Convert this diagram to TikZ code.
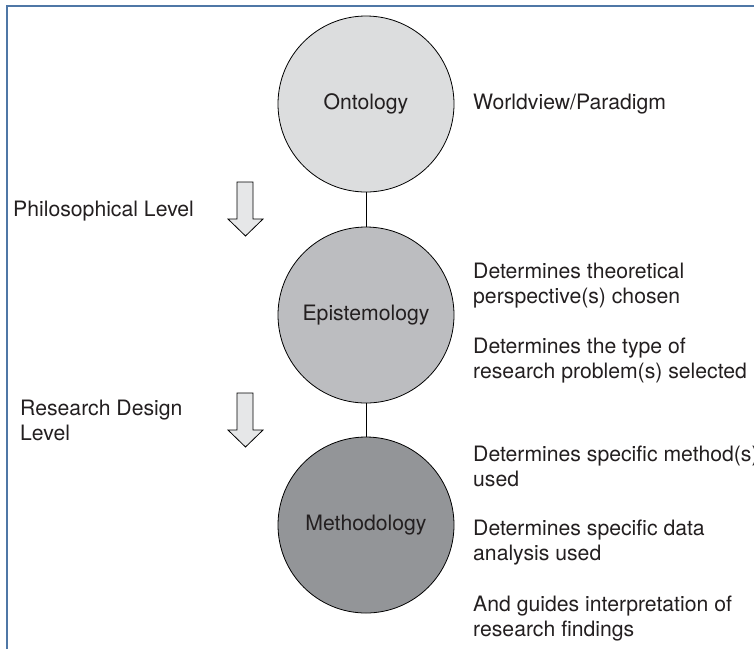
\documentclass[tikz,border=0pt]{standalone}
\usepackage{fontspec}
\setmainfont{TeX Gyre Heros}
\usepackage{tikz}
\definecolor{cadrebleu}{HTML}{4F77A6}
\definecolor{onto}{HTML}{DCDDDE}
\definecolor{episte}{HTML}{BCBDC0}
\definecolor{metho}{HTML}{939598}
\definecolor{fleche}{HTML}{E6E7E8}
\definecolor{encre}{HTML}{231F20}

\begin{document}
\begin{tikzpicture}[x=1pt, y=-1pt, color=encre, node font=\fontsize{21.2}{25}\selectfont,
	niveau/.style={circle, draw=black, line width=0.8pt, minimum size=176pt, inner sep=0pt},
	remarque/.style={anchor=west, align=left, inner sep=0pt},
	bloc/.style={draw=black, line width=0.8pt, fill=fleche}]
			\useasboundingbox (0,0) rectangle (754,649);
			\draw [cadrebleu, line width=2pt] (7,649) -- (7,5.5) -- (754,5.5);
			% the three levels
			\node [niveau, fill=onto] (ontology) at (366,104) {Ontology};
			\node [niveau, fill=episte] (epistemology) at (366,315) {Epistemology};
			\node [niveau, fill=metho] (methodology) at (366,525) {Methodology};
			\draw [black, line width=0.8pt] (ontology) -- (epistemology);
			\draw [black, line width=0.8pt] (epistemology) -- (methodology);
			% block arrows
			\draw [bloc] (237,182) -- (253,182) -- (253,219) -- (263,219) -- (245.5,236) -- (228,219) -- (237,219) -- cycle;
			\draw [bloc, shift={(0,211)}] (237,182) -- (253,182) -- (253,219) -- (263,219) -- (245.5,236) -- (228,219) -- (237,219) -- cycle;
				\node [remarque] (philo) at (13,211) {Philosophical Level};
				\node [remarque] (design) at (20,420) {Research Design\\Level};
			% notes on the right
				\node [remarque] (paradigm) at (473,104) {Worldview/Paradigm};
				\node [remarque] (theory) at (473,285.5) {Determines theoretical\\perspective(s) chosen};
				\node [remarque] (problem) at (473,360.5) {Determines the type of\\research problem(s) selected};
				\node [remarque] (method) at (473,466.5) {Determines specific method(s)\\used};
				\node [remarque] (analysis) at (473,542.5) {Determines specific data\\analysis used};
				\node [remarque] (findings) at (473,618.5) {And guides interpretation of\\research findings};
		\end{tikzpicture}
\end{document}
